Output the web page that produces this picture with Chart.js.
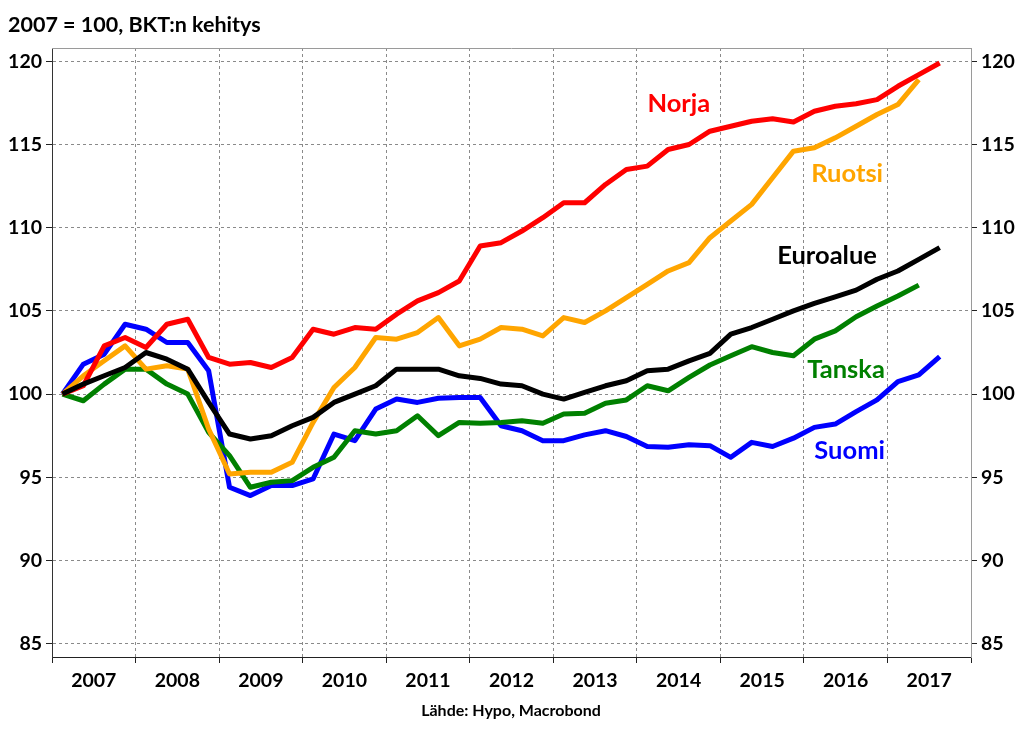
<!DOCTYPE html>
<html><head><meta charset="utf-8">
<script src="https://cdn.jsdelivr.net/npm/chart.js@4.4.1/dist/chart.umd.min.js"></script>
<style>html,body{margin:0;padding:0;background:#fff}#wrap{width:1024px;height:733px;position:relative}</style>
</head><body><div id="wrap"><canvas id="c"></canvas></div>
<script>
// ---- data ----
const years = ['2007','2008','2009','2010','2011','2012','2013','2014','2015','2016','2017'];
const quarters = years.flatMap(y => ['Q1','Q2','Q3','Q4'].map(q => y + q));
const yTicks = [85, 90, 95, 100, 105, 110, 115, 120];
const titleText = '2007 = 100, BKT:n kehitys';
const sourceText = 'Lähde: Hypo, Macrobond';

const norja = [100.0,100.5,102.9,103.4,102.8,104.2,104.5,102.2,101.8,101.9,101.6,102.2,103.9,103.6,104.0,103.9,104.8,105.6,106.1,106.8,108.9,109.1,109.8,110.6,111.5,111.5,112.6,113.5,113.7,114.7,115.0,115.8,116.1,116.4,116.55,116.35,117.0,117.3,117.45,117.7,118.5,119.2,119.9];
const ruotsi = [100.0,101.1,102.0,102.9,101.5,101.7,101.5,97.9,95.2,95.3,95.3,95.9,98.3,100.4,101.6,103.4,103.3,103.7,104.6,102.9,103.3,104.0,103.9,103.5,104.6,104.3,105.0,105.8,106.6,107.4,107.9,109.4,110.4,111.4,113.0,114.6,114.8,115.4,116.1,116.8,117.4,118.9];
const euroalue = [100.0,100.6,101.1,101.6,102.5,102.1,101.5,99.5,97.6,97.3,97.5,98.1,98.6,99.5,100.0,100.5,101.5,101.5,101.5,101.1,100.94,100.6,100.5,100.0,99.7,100.1,100.5,100.8,101.4,101.5,102.0,102.45,103.6,104.0,104.5,105.0,105.45,105.85,106.25,106.9,107.4,108.1,108.8];
const tanska = [100.0,99.6,100.6,101.5,101.5,100.6,100.0,97.7,96.3,94.4,94.7,94.8,95.6,96.2,97.8,97.6,97.8,98.7,97.5,98.3,98.25,98.3,98.4,98.25,98.8,98.85,99.45,99.65,100.5,100.2,101.0,101.75,102.3,102.85,102.5,102.3,103.3,103.8,104.65,105.3,105.9,106.55];
const suomi = [100.0,101.8,102.4,104.2,103.9,103.1,103.1,101.4,94.4,93.9,94.5,94.5,94.9,97.6,97.2,99.1,99.7,99.5,99.75,99.8,99.8,98.1,97.8,97.2,97.2,97.55,97.8,97.45,96.85,96.8,96.95,96.9,96.2,97.1,96.85,97.35,98.0,98.2,98.95,99.65,100.75,101.15,102.25];

const seriesNames = ['Euroalue','Norja','Ruotsi','Tanska','Suomi'];
const seriesData = [euroalue, norja, ruotsi, tanska, suomi];
const seriesColors = ['#000000','#ff0000','#ffa500','#008000','#0000ff'];

// ---- styling ----
const FONT = 'Lato, "Open Sans", sans-serif';
const gridColor = '#8a8a8a';
const dash = [3, 3];

// series name annotations: anchor in data space (quarter index, value)
const seriesLabels = [
  {text: 'Norja',    color: '#ff0000', q: 29.51, v: 116.96},
  {text: 'Ruotsi',   color: '#ffa500', q: 37.57, v: 112.76},
  {text: 'Euroalue', color: '#000000', q: 36.61, v: 107.8},
  {text: 'Tanska',   color: '#008000', q: 37.52, v: 100.95},
  {text: 'Suomi',    color: '#0000ff', q: 37.69, v: 96.08}
];

const textPlugin = {
  id: 'texts',
  afterDraw(chart) {
    const ctx = chart.ctx, ca = chart.chartArea;
    const xs = chart.scales.x, ys = chart.scales.y;
    ctx.save();
    // top frame line
    ctx.strokeStyle = '#9a9a9a'; ctx.lineWidth = 1;
    ctx.beginPath(); ctx.moveTo(ca.left, ca.top + 0.5); ctx.lineTo(ca.right, ca.top + 0.5); ctx.stroke();
    // title
    ctx.fillStyle = '#000';
    ctx.font = 'bold 21.5px ' + FONT;
    ctx.textAlign = 'left'; ctx.textBaseline = 'alphabetic';
    ctx.fillText(titleText, 8, 32);
    // source
    ctx.font = 'bold 16px ' + FONT;
    ctx.textAlign = 'center';
    ctx.fillText(sourceText, 511, 716);
    // series labels
    ctx.font = 'bold 25.5px ' + FONT;
    seriesLabels.forEach(l => {
      ctx.fillStyle = l.color;
      ctx.fillText(l.text, xs.getPixelForValue(l.q), ys.getPixelForValue(l.v));
    });
    ctx.restore();
  }
};

const tickFont = {family: FONT, size: 19.5, weight: 'bold'};

new Chart(document.getElementById('c'), {
  type: 'line',
  data: {
    labels: quarters,
    datasets: seriesNames.map((n, i) => ({
      label: n,
      data: seriesData[i],
      borderColor: seriesColors[i],
      backgroundColor: seriesColors[i],
      borderWidth: 5,
      pointRadius: 0,
      tension: 0,
      fill: false,
      borderJoinStyle: 'round',
      xAxisID: 'x',
      yAxisID: 'y'
    }))
  },
  options: {
    responsive: true,
    maintainAspectRatio: false,
    animation: false,
    devicePixelRatio: 1,
    layout: {padding: {top: 48, left: 0, right: 0, bottom: 0}},
    plugins: {legend: {display: false}, tooltip: {enabled: false}, title: {display: false}},
    scales: {
      x: {type: 'category', labels: quarters, offset: true, display: false},
      years: {
        type: 'category', labels: years, offset: true, position: 'bottom',
        grid: {offset: true, color: gridColor, borderDash: dash, tickLength: 6, tickColor: '#222', tickWidth: 1},
        border: {display: true, color: '#222', width: 1, dash: dash},
        ticks: {font: tickFont, color: '#000', padding: 6, maxRotation: 0, autoSkip: false},
        afterFit: s => { s.height = 76; }
      },
      y: {
        type: 'linear', position: 'left', min: 84.2, max: 120.8,
        afterBuildTicks: s => { s.ticks = yTicks.map(v => ({value: v})); },
        grid: {color: gridColor, borderDash: dash, tickLength: 6, tickColor: '#222', tickWidth: 1},
        border: {display: true, color: '#333', width: 1, dash: dash},
        ticks: {font: tickFont, color: '#000', padding: 4},
        afterFit: s => { s.width = 52; }
      },
      y2: {
        type: 'linear', position: 'right', min: 84.2, max: 120.8,
        afterBuildTicks: s => { s.ticks = yTicks.map(v => ({value: v})); },
        grid: {drawOnChartArea: false, tickLength: 6, tickColor: '#222', tickWidth: 1},
        border: {display: true, color: '#9a9a9a', width: 1},
        ticks: {font: tickFont, color: '#000', padding: 4},
        afterFit: s => { s.width = 53; }
      }
    }
  },
  plugins: [textPlugin]
});
</script>
</body></html>
